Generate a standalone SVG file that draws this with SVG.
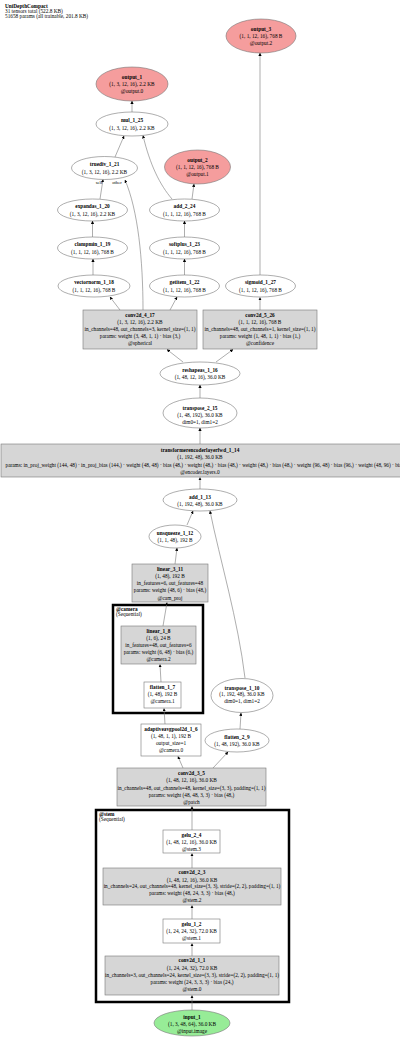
<svg xmlns="http://www.w3.org/2000/svg" width="400" height="1043" viewBox="0 0 400 1043">
<defs>
<marker id="ah" viewBox="0 0 10 10" refX="9" refY="5" markerWidth="3.2" markerHeight="3.2" orient="auto" markerUnits="userSpaceOnUse">
<path d="M0,0 L10,5 L0,10 z" fill="#000"/>
</marker>
<style>
text{font-family:"Liberation Serif","Times New Roman",serif;font-size:5.3px;fill:#000;text-anchor:middle}
.b{font-weight:bold}
.l{text-anchor:start}
.el{fill:#fff;stroke:#777;stroke-width:0.6}
.red{fill:#f59d9d;stroke:#777;stroke-width:0.6}
.grn{fill:#97ec97;stroke:#777;stroke-width:0.6}
.box{fill:#d6d6d6;stroke:#777;stroke-width:0.6}
.wbox{fill:#fff;stroke:#777;stroke-width:0.6}
.cl{fill:none;stroke:#000;stroke-width:2.5}
.e{fill:none;stroke:#777;stroke-width:0.6;marker-end:url(#ah)}
.lab{font-size:4.6px}
</style>
</defs>
<rect width="400" height="1043" fill="#fff"/>
<g id="title">
<text class="b l" x="5" y="7.5">UniDepthCompact</text>
<text class="l" x="5" y="12.5">31 tensors total (522.8 KB)</text>
<text class="l" x="5" y="17.5">51658 params (all trainable, 201.8 KB)</text>
</g>
<g id="cluster_camera">
<rect class="cl" x="113" y="605" width="90" height="108"/>
<text class="b l" x="116" y="611">@camera</text>
<text class="l" x="116" y="616">(Sequential)</text>
</g>
<g id="cluster_stem">
<rect class="cl" x="96" y="810" width="193" height="192"/>
<text class="b l" x="99" y="816">@stem</text>
<text class="l" x="99" y="821">(Sequential)</text>
</g>
<g id="edges">
<path class="e" d="M192,1010 L192,995.5"/>
<path class="e" d="M192,956 L192,943.5"/>
<path class="e" d="M192,919 L192,905.5"/>
<path class="e" d="M192,868 L192,853.5"/>
<path class="e" d="M192,830 L192,806.5"/>
<path class="e" d="M183,768 L178,756.5"/>
<path class="e" d="M213,768 L228,752"/>
<path class="e" d="M165,724 L164,708.5"/>
<path class="e" d="M240,729 L241,713"/>
<path class="e" d="M161,682 L160,664.5"/>
<path class="e" d="M163,626 L167,602.5"/>
<path class="e" d="M175,564 L177,548"/>
<path class="e" d="M187,525 L193,511"/>
<path class="e" d="M245,678 C238,620 220,560 210,511"/>
<path class="e" d="M200,489 L200,477.5"/>
<path class="e" d="M200,444 L200,428"/>
<path class="e" d="M200,398 L200,385"/>
<path class="e" d="M183,362 L167,349.5"/>
<path class="e" d="M216,362 L233,349.5"/>
<path class="e" d="M120,310 L110,297"/>
<path class="e" d="M143,310 C143,260 138,210 125,180"/>
<path class="e" d="M170,310 L177,297"/>
<path class="e" d="M260,310 L260,297.5"/>
<path class="e" d="M260,275 L260,53"/>
<path class="e" d="M184.5,275 L184.5,259"/>
<path class="e" d="M184.5,237 L184.5,221"/>
<path class="e" d="M192,199 L194,184"/>
<path class="e" d="M172,199 C160,185 150,165 143,135.5"/>
<path class="e" d="M93,275 L93,259"/>
<path class="e" d="M92.5,237 L92.5,221"/>
<path class="e" d="M100,199 L103,179.5"/>
<path class="e" d="M115,157 L124,136"/>
<path class="e" d="M132,112 L132,101"/>
<text class="lab" x="99" y="184">self</text>
<text class="lab" x="117" y="184">other</text>
</g>
<g id="output_3">
<ellipse class="red" cx="261" cy="36" rx="35" ry="17"/>
<text class="b" x="261" y="31">output_3</text>
<text x="261" y="38">(1, 1, 12, 16), 768 B</text>
<text x="261" y="45">@output.2</text>
</g>
<g id="output_1">
<ellipse class="red" cx="132" cy="84" rx="36" ry="17"/>
<text class="b" x="132" y="79">output_1</text>
<text x="132" y="86">(1, 3, 12, 16), 2.2 KB</text>
<text x="132" y="93">@output.0</text>
</g>
<g id="mul_1_25">
<ellipse class="el" cx="132" cy="124" rx="36" ry="12"/>
<text class="b" x="132" y="122">mul_1_25</text>
<text x="132" y="129.5">(1, 3, 12, 16), 2.2 KB</text>
</g>
<g id="truediv_1_21">
<ellipse class="el" cx="104.5" cy="168" rx="33" ry="11.5"/>
<text class="b" x="104.5" y="166">truediv_1_21</text>
<text x="104.5" y="173.5">(1, 3, 12, 16), 2.2 KB</text>
</g>
<g id="output_2">
<ellipse class="red" cx="197.5" cy="167" rx="33" ry="17"/>
<text class="b" x="197.5" y="162">output_2</text>
<text x="197.5" y="169">(1, 1, 12, 16), 768 B</text>
<text x="197.5" y="176">@output.1</text>
</g>
<g id="expandas_1_20">
<ellipse class="el" cx="92.5" cy="210" rx="35" ry="11"/>
<text class="b" x="92.5" y="208">expandas_1_20</text>
<text x="92.5" y="215.5">(1, 3, 12, 16), 2.2 KB</text>
</g>
<g id="add_2_24">
<ellipse class="el" cx="184.5" cy="210" rx="35" ry="11"/>
<text class="b" x="184.5" y="208">add_2_24</text>
<text x="184.5" y="215.5">(1, 1, 12, 16), 768 B</text>
</g>
<g id="clampmin_1_19">
<ellipse class="el" cx="92.5" cy="248" rx="35" ry="11"/>
<text class="b" x="92.5" y="246">clampmin_1_19</text>
<text x="92.5" y="253.5">(1, 1, 12, 16), 768 B</text>
</g>
<g id="softplus_1_23">
<ellipse class="el" cx="184.5" cy="248" rx="35" ry="11"/>
<text class="b" x="184.5" y="246">softplus_1_23</text>
<text x="184.5" y="253.5">(1, 1, 12, 16), 768 B</text>
</g>
<g id="vectornorm_1_18">
<ellipse class="el" cx="94" cy="286" rx="36" ry="11"/>
<text class="b" x="94" y="284">vectornorm_1_18</text>
<text x="94" y="291.5">(1, 1, 12, 16), 768 B</text>
</g>
<g id="getitem_1_22">
<ellipse class="el" cx="184.5" cy="286" rx="35" ry="11"/>
<text class="b" x="184.5" y="284">getitem_1_22</text>
<text x="184.5" y="291.5">(1, 1, 12, 16), 768 B</text>
</g>
<g id="sigmoid_1_27">
<ellipse class="el" cx="260.5" cy="286" rx="35" ry="11"/>
<text class="b" x="260.5" y="284">sigmoid_1_27</text>
<text x="260.5" y="291.5">(1, 1, 12, 16), 768 B</text>
</g>
<g id="conv2d_4_17">
<rect class="box" x="83" y="310" width="114" height="39"/>
<text class="b" x="140" y="317">conv2d_4_17</text>
<text x="140" y="324">(1, 3, 12, 16), 2.2 KB</text>
<text x="140" y="331">in_channels=48, out_channels=3, kernel_size=(1, 1)</text>
<text x="140" y="338">params: weight (3, 48, 1, 1) · bias (3,)</text>
<text x="140" y="345">@spherical</text>
</g>
<g id="conv2d_5_26">
<rect class="box" x="203" y="310" width="114" height="39"/>
<text class="b" x="260" y="317">conv2d_5_26</text>
<text x="260" y="324">(1, 1, 12, 16), 768 B</text>
<text x="260" y="331">in_channels=48, out_channels=1, kernel_size=(1, 1)</text>
<text x="260" y="338">params: weight (1, 48, 1, 1) · bias (1,)</text>
<text x="260" y="345">@confidence</text>
</g>
<g id="reshapeas_1_16">
<ellipse class="el" cx="200" cy="373.5" rx="40" ry="11.5"/>
<text class="b" x="200" y="371.5">reshapeas_1_16</text>
<text x="200" y="379">(1, 48, 12, 16), 36.0 KB</text>
</g>
<g id="transpose_2_15">
<ellipse class="el" cx="200" cy="413" rx="37" ry="15"/>
<text class="b" x="200" y="409.5">transpose_2_15</text>
<text x="200" y="417">(1, 48, 192), 36.0 KB</text>
<text x="200" y="424">dim0=1, dim1=2</text>
</g>
<g id="transformerencoderlayerfwd_1_14">
<rect class="box" x="1" y="444" width="405" height="33"/>
<text class="b" x="200" y="451.5">transformerencoderlayerfwd_1_14</text>
<text x="200" y="459">(1, 192, 48), 36.0 KB</text>
<text class="l" x="5.5" y="466.5">params: in_proj_weight (144, 48) · in_proj_bias (144,) · weight (48, 48) · bias (48,) · weight (48,) · bias (48,) · weight (48,) · bias (48,) · weight (96, 48) · bias (96,) · weight (48, 96) · bias (48,)</text>
<text x="200" y="474">@encoder.layers.0</text>
</g>
<g id="add_1_13">
<ellipse class="el" cx="200" cy="500" rx="37" ry="11"/>
<text class="b" x="200" y="498.5">add_1_13</text>
<text x="200" y="505.5">(1, 192, 48), 36.0 KB</text>
</g>
<g id="unsqueeze_1_12">
<ellipse class="el" cx="175" cy="536.5" rx="26" ry="11.5"/>
<text class="b" x="175" y="534.5">unsqueeze_1_12</text>
<text x="175" y="542">(1, 1, 48), 192 B</text>
</g>
<g id="linear_3_11">
<rect class="box" x="132" y="564" width="76" height="38"/>
<text class="b" x="170" y="571">linear_3_11</text>
<text x="170" y="578">(1, 48), 192 B</text>
<text x="170" y="585">in_features=6, out_features=48</text>
<text x="170" y="592">params: weight (48, 6) · bias (48,)</text>
<text x="170" y="599.5">@cam_proj</text>
</g>
<g id="linear_1_8">
<rect class="box" x="121" y="626" width="75" height="38"/>
<text class="b" x="158.5" y="632.5">linear_1_8</text>
<text x="158.5" y="640">(1, 6), 24 B</text>
<text x="158.5" y="647">in_features=48, out_features=6</text>
<text x="158.5" y="654">params: weight (6, 48) · bias (6,)</text>
<text x="158.5" y="661">@camera.2</text>
</g>
<g id="flatten_1_7">
<rect class="wbox" x="144" y="682" width="37" height="26"/>
<text class="b" x="162.5" y="689">flatten_1_7</text>
<text x="162.5" y="696">(1, 48), 192 B</text>
<text x="162.5" y="703">@camera.1</text>
</g>
<g id="transpose_1_10">
<ellipse class="el" cx="242" cy="695.5" rx="31" ry="17"/>
<text class="b" x="242" y="689.5">transpose_1_10</text>
<text x="242" y="696">(1, 192, 48), 36.0 KB</text>
<text x="242" y="702.5">dim0=1, dim1=2</text>
</g>
<g id="adaptiveavgpool2d_1_6">
<rect class="wbox" x="141" y="724" width="60" height="32"/>
<text class="b" x="171" y="731">adaptiveavgpool2d_1_6</text>
<text x="171" y="738">(1, 48, 1, 1), 192 B</text>
<text x="171" y="745">output_size=1</text>
<text x="171" y="752">@camera.0</text>
</g>
<g id="flatten_2_9">
<ellipse class="el" cx="237" cy="740.5" rx="32" ry="11.5"/>
<text class="b" x="237" y="738.5">flatten_2_9</text>
<text x="237" y="746">(1, 48, 192), 36.0 KB</text>
</g>
<g id="conv2d_3_5">
<rect class="box" x="117" y="768" width="149" height="38"/>
<text class="b" x="191.5" y="775">conv2d_3_5</text>
<text x="191.5" y="782">(1, 48, 12, 16), 36.0 KB</text>
<text x="191.5" y="789.5">in_channels=48, out_channels=48, kernel_size=(3, 3), padding=(1, 1)</text>
<text x="191.5" y="796.5">params: weight (48, 48, 3, 3) · bias (48,)</text>
<text x="191.5" y="803.5">@patch</text>
</g>
<g id="gelu_2_4">
<rect class="wbox" x="163" y="830" width="57" height="23"/>
<text class="b" x="191.5" y="837">gelu_2_4</text>
<text x="191.5" y="844">(1, 48, 12, 16), 36.0 KB</text>
<text x="191.5" y="851">@stem.3</text>
</g>
<g id="conv2d_2_3">
<rect class="box" x="103" y="868" width="178" height="37"/>
<text class="b" x="192" y="874">conv2d_2_3</text>
<text x="192" y="881.5">(1, 48, 12, 16), 36.0 KB</text>
<text x="192" y="888">in_channels=24, out_channels=48, kernel_size=(3, 3), stride=(2, 2), padding=(1, 1)</text>
<text x="192" y="895">params: weight (48, 24, 3, 3) · bias (48,)</text>
<text x="192" y="902">@stem.2</text>
</g>
<g id="gelu_1_2">
<rect class="wbox" x="163" y="919" width="57" height="24"/>
<text class="b" x="191.5" y="925.5">gelu_1_2</text>
<text x="191.5" y="932.5">(1, 24, 24, 32), 72.0 KB</text>
<text x="191.5" y="939.5">@stem.1</text>
</g>
<g id="conv2d_1_1">
<rect class="box" x="105" y="956" width="174" height="39"/>
<text class="b" x="192" y="962">conv2d_1_1</text>
<text x="192" y="969.5">(1, 24, 24, 32), 72.0 KB</text>
<text x="192" y="977">in_channels=3, out_channels=24, kernel_size=(3, 3), stride=(2, 2), padding=(1, 1)</text>
<text x="192" y="984">params: weight (24, 3, 3, 3) · bias (24,)</text>
<text x="192" y="991">@stem.0</text>
</g>
<g id="input_1">
<ellipse class="grn" cx="192" cy="1023" rx="38" ry="13"/>
<text class="b" x="192" y="1019">input_1</text>
<text x="192" y="1026">(1, 3, 48, 64), 36.0 KB</text>
<text x="192" y="1032.5">@input.image</text>
</g>
</svg>
